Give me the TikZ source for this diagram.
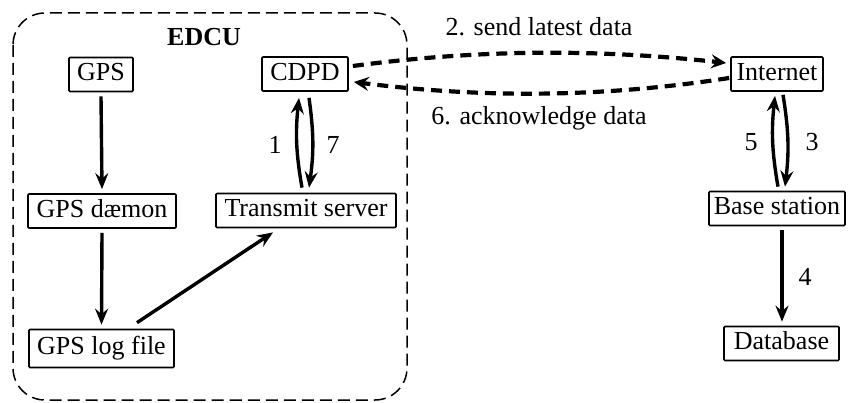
\documentclass[tikz,border=0pt]{standalone}
\usepackage{fontspec}
\setmainfont{Liberation Serif}
\usetikzlibrary{arrows.meta}
\begin{document}
\begin{tikzpicture}[x=1pt,y=-1pt,
  every node/.style={font=\fontsize{26}{30}\selectfont},
  box/.style={draw,line width=1.7pt,rounded corners=1pt,minimum height=34pt,inner sep=0pt,text height=18pt,text depth=5pt},
  arr/.style={line width=3.4pt,-{Stealth[length=16pt,width=13pt,inset=5.5pt]}},
  darr/.style={line width=4.2pt,dash pattern=on 11pt off 7pt,-{Stealth[length=15pt,width=14pt,inset=5.5pt]}},
  num/.style={inner sep=0pt}]
\useasboundingbox (0,0) rectangle (849,403);
\draw[line width=1.5pt,dash pattern=on 12pt off 6pt,rounded corners=32pt] (13,13) rectangle (407,400);
\node[font=\fontsize{26}{30}\selectfont\bfseries] (edcu) at (204,37) {EDCU};
\node[box,minimum width=64pt] (gps) at (101,74.5) {GPS};
\node[box,minimum width=86pt] (cdpd) at (305,74) {CDPD};
\node[box,minimum width=148pt] (daemon) at (102,211) {GPS dæmon};
\node[box,minimum width=180pt] (ts) at (306,210.5) {Transmit server};
\node[box,minimum width=145pt,minimum height=38pt] (log) at (101.5,348.5) {GPS log file};
\node[box,minimum width=92pt] (inet) at (777,74) {Internet};
\node[box,minimum width=136pt] (base) at (777,208.5) {Base station};
\node[box,minimum width=115pt] (db) at (781.5,343.5) {Database};
\node[num] (n1) at (275,145) {1};
\node[num] (n7) at (333,145) {7};
\node[num] (n5) at (751,142) {5};
\node[num] (n3) at (812,142) {3};
\node[num] (n4) at (805,277) {4};
\node[num] (l2) at (539,27) {2. send latest data};
\node[num] (l6) at (539,118) {6. acknowledge data};
\draw[arr] ([yshift=-4pt]gps.south) -- ([yshift=4pt]daemon.north);
\draw[arr] ([yshift=-4pt]daemon.south) -- ([yshift=4pt]log.north);
\draw[arr] ([xshift=35.5pt,yshift=6pt]log.north) -- ([xshift=-33pt,yshift=-4pt]ts.south);
\draw[arr] ([xshift=-4pt,yshift=5pt]ts.north) to[bend left=8] ([xshift=-6pt,yshift=-6pt]cdpd.south);
\draw[arr] ([xshift=4pt,yshift=-6pt]cdpd.south) to[bend left=8] ([xshift=3pt,yshift=5pt]ts.north);
\draw[arr] ([xshift=1pt,yshift=4pt]base.north) to[bend left=8] ([xshift=-2pt,yshift=-4pt]inet.south);
\draw[arr] ([xshift=6pt,yshift=-3pt]inet.south) to[bend left=8] ([xshift=8pt,yshift=4pt]base.north);
\draw[arr] ([xshift=5pt,yshift=-4pt]base.south) -- ([xshift=0.5pt,yshift=4pt]db.north);
\draw[darr] ([xshift=4pt,yshift=8pt]cdpd.east) .. controls +(128,-17) and +(-127,-14) .. ([xshift=-4pt,yshift=11pt]inet.west);
\draw[darr] ([xshift=-1pt,yshift=-4pt]inet.west) .. controls +(-130,20) and +(127,16) .. ([xshift=5pt,yshift=-8pt]cdpd.east);
\end{tikzpicture}
\end{document}
